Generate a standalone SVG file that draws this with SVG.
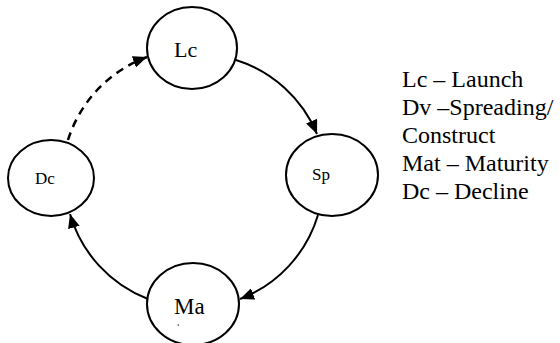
<svg xmlns="http://www.w3.org/2000/svg" width="560" height="343" viewBox="0 0 560 343">
<style>
.node ellipse{fill:#fff;stroke:#000;stroke-width:2}
.lbl{font-family:"Liberation Serif","Times New Roman",serif;fill:#000}
.big{font-size:22px}
.small{font-size:17px}
.legend{font-family:"Liberation Serif","Times New Roman",serif;font-size:24px;fill:#000}
.edge{fill:none;stroke:#000;stroke-width:2}
.dash{stroke-dasharray:8,6;stroke-width:2.5}
</style>
<defs>
<marker id="ah" markerUnits="userSpaceOnUse" markerWidth="15" markerHeight="12" refX="14" refY="6" orient="auto">
<path d="M0,0 L14,6 L0,12 z" fill="#000"/>
</marker>
</defs>
<rect width="560" height="343" fill="#fff"/>
<g id="connectors">
<path class="edge" d="M236,60 A130,130 0 0 1 317,134" marker-end="url(#ah)"/>
<path class="edge" d="M318,215 A130,130 0 0 1 240,299" marker-end="url(#ah)"/>
<path class="edge" d="M148,299 A130,130 0 0 1 70,214" marker-end="url(#ah)"/>
<path class="edge dash" d="M68,140 A130,130 0 0 1 147,57" marker-end="url(#ah)"/>
</g>
<g id="node-lc" class="node">
<ellipse cx="192" cy="48" rx="45" ry="41"/>
<text class="lbl big" x="174" y="57">Lc</text>
</g>
<g id="node-sp" class="node">
<ellipse cx="332" cy="175" rx="46" ry="41"/>
<text class="lbl small" x="312" y="180">Sp</text>
</g>
<g id="node-ma" class="node">
<ellipse cx="193" cy="304" rx="46" ry="41"/>
<text class="lbl big" x="174" y="314" style="font-size:23px">Ma</text>
<line x1="178" y1="324" x2="178.5" y2="326" stroke="#555" stroke-width="1"/>
</g>
<g id="node-dc" class="node">
<ellipse cx="51" cy="178" rx="43" ry="38"/>
<text class="lbl small" x="35" y="184">Dc</text>
</g>
<g id="legend">
<text class="legend" x="402" y="87">Lc – Launch</text>
<text class="legend" x="402" y="115">Dv –Spreading/</text>
<text class="legend" x="402" y="143">Construct</text>
<text class="legend" x="402" y="171">Mat – Maturity</text>
<text class="legend" x="402" y="199">Dc – Decline</text>
</g>
</svg>
